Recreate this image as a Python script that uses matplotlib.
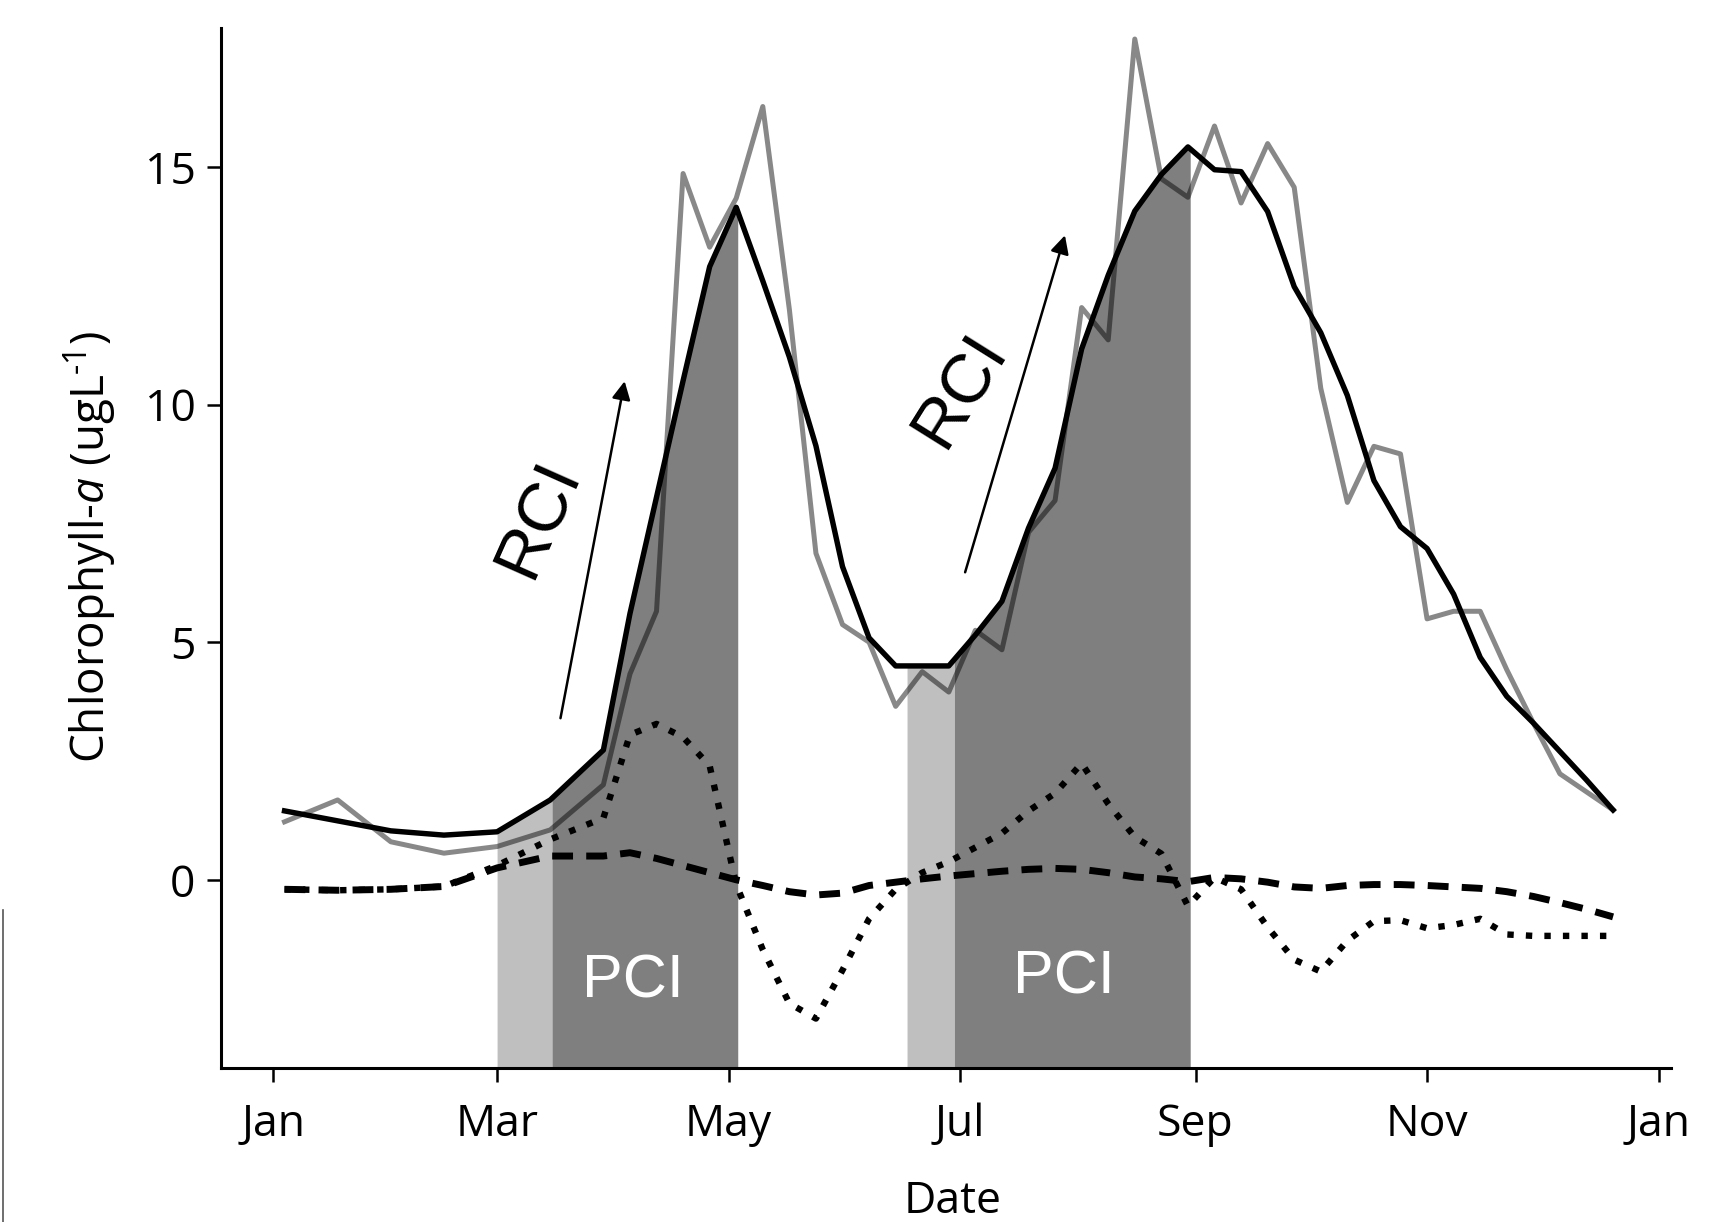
import numpy as np
import matplotlib
matplotlib.use('Agg')
import matplotlib.pyplot as plt
from matplotlib.lines import Line2D

# ---------------- data (day of year, Jan 1 = 0) ----------------
days = [3, 17, 31, 45, 59, 73, 87, 94, 101, 108, 115, 122, 129, 136, 143, 150,
        157, 164, 171, 178, 185, 192, 199, 206, 213, 220, 227, 234, 241, 248,
        255, 262, 269, 276, 283, 290, 297, 304, 311, 318, 325, 332, 339, 346, 353]

chl_raw = [1.22, 1.68, 0.80, 0.56, 0.70, 1.05, 2.00, 4.33, 5.65, 14.86, 13.31,
           14.34, 16.27, 12.0, 6.87, 5.37, 5.00, 3.65, 4.38, 3.95, 5.25, 4.84,
           7.31, 7.98, 12.04, 11.36, 17.69, 14.75, 14.36, 15.86, 14.24, 15.49,
           14.57, 10.34, 7.94, 9.12, 8.96, 5.49, 5.65, 5.65, 4.42, 3.30, 2.23,
           1.85, 1.47]

chl_smooth = [1.45, 1.24, 1.03, 0.94, 1.01, 1.68, 2.73, 5.60, 8.05, 10.50, 12.90,
              14.15, 12.60, 11.00, 9.13, 6.59, 5.09, 4.50, 4.50, 4.50, 5.15, 5.86,
              7.40, 8.66, 11.17, 12.72, 14.07, 14.84, 15.42, 14.94, 14.90, 14.06,
              12.48, 11.51, 10.19, 8.40, 7.43, 6.97, 6.01, 4.68, 3.86, 3.30, 2.70,
              2.10, 1.47]

trend_dashed = [-0.20, -0.22, -0.20, -0.14, 0.25, 0.50, 0.50, 0.57, 0.45, 0.30,
                0.15, 0.00, -0.12, -0.25, -0.32, -0.28, -0.12, -0.05, 0.02, 0.08,
                0.13, 0.18, 0.22, 0.24, 0.22, 0.15, 0.06, 0.02, -0.04, 0.05, 0.02,
                -0.05, -0.15, -0.18, -0.12, -0.10, -0.10, -0.12, -0.15, -0.18,
                -0.25, -0.35, -0.48, -0.62, -0.78]

rate_dotted = [-0.20, -0.22, -0.20, -0.14, 0.30, 0.85, 1.30, 3.05, 3.28, 3.00,
               2.40, -0.10, -1.47, -2.60, -2.92, -1.90, -0.82, -0.20, 0.15, 0.38,
               0.68, 0.98, 1.45, 1.82, 2.45, 1.60, 0.90, 0.55, -0.55, 0.05, -0.20,
               -1.00, -1.68, -1.93, -1.28, -0.87, -0.85, -1.02, -0.95, -0.82,
               -1.15, -1.18, -1.18, -1.18, -1.18]

# shaded periods (start day, end day)
light_bands = [(59.0, 73.5), (167.0, 179.5)]
dark_bands = [(73.5, 122.4), (179.5, 241.6)]

# arrows (tail day, tail value, head day, head value)
rci_arrows = [(75.7, 3.40, 92.6, 10.49), (182.3, 6.47, 208.6, 13.56)]
rci_labels = [(70.0, 7.6, 66), (181.1, 10.3, 58)]
pci_labels = [(94.7, -2.14), (208.3, -2.07)]

month_ticks = [0, 59, 120, 181, 243, 304, 365]
month_labels = ['Jan', 'Mar', 'May', 'Jul', 'Sep', 'Nov', 'Jan']
y_ticks = [0, 5, 10, 15]

XLIM = (-13.7, 368.3)
YLIM = (-3.95, 17.93)

# ---------------- figure ----------------
plt.rcParams['font.family'] = ['Open Sans', 'DejaVu Sans']
plt.rcParams['mathtext.fontset'] = 'custom'
plt.rcParams['mathtext.rm'] = 'Open Sans'
plt.rcParams['mathtext.it'] = 'Open Sans:italic'

fig = plt.figure(figsize=(17.33, 12.22), dpi=100)
ax = fig.add_axes([0.1276, 0.1264, 0.8367, 0.8510])

ax.plot(days, chl_raw, color='#888888', lw=3.6, zorder=2)
ax.plot(days, chl_smooth, color='black', lw=3.9, zorder=3)
ax.plot(days, trend_dashed, color='black', lw=5.0, linestyle=(0, (3.0, 1.9)), zorder=3)
ax.plot(days, rate_dotted, color='black', lw=4.6, linestyle=(0, (1, 1.9)), zorder=3)

for a, b in light_bands:
    xs = np.linspace(a, b, 200)
    ax.fill_between(xs, YLIM[0], np.interp(xs, days, chl_smooth),
                    color='black', alpha=0.25, lw=0, zorder=5)
for a, b in dark_bands:
    xs = np.linspace(a, b, 400)
    ax.fill_between(xs, YLIM[0], np.interp(xs, days, chl_smooth),
                    color='black', alpha=0.5, lw=0, zorder=5)

for x0, y0, x1, y1 in rci_arrows:
    ax.annotate('', xy=(x1, y1), xytext=(x0, y0),
                arrowprops=dict(arrowstyle='-|>,head_length=0.55,head_width=0.28',
                                lw=1.8, color='black', shrinkA=0, shrinkB=0,
                                mutation_scale=20), zorder=6)
for x, y, rot in rci_labels:
    ax.text(x, y, 'RCI', rotation=rot, rotation_mode='anchor', ha='center',
            va='center', fontsize=50, family='Liberation Sans', color='black', zorder=6)
for x, y in pci_labels:
    ax.text(x, y, 'PCI', ha='center', va='center', fontsize=44,
            family='Liberation Sans', color='white', zorder=6)

ax.set_xlim(*XLIM)
ax.set_ylim(*YLIM)
ax.set_xticks(month_ticks)
ax.set_xticklabels(month_labels)
ax.set_yticks(y_ticks)

for s in ['top', 'right']:
    ax.spines[s].set_visible(False)
for s in ['left', 'bottom']:
    ax.spines[s].set_linewidth(2.2)
ax.tick_params(direction='out', length=10.4, width=1.8, labelsize=32, colors='black')
ax.tick_params(axis='x', pad=15)
ax.tick_params(axis='y', pad=8)

ax.set_xlabel('Date', fontsize=32, va='center')
ax.xaxis.set_label_coords(0.5046, -0.129)
ax.set_ylabel(r'Chlorophyll-$\mathit{a}$ (ugL$^{\text{-}1}$)', fontsize=33, va='center')
ax.yaxis.set_label_coords(-0.0899, 0.5006)

# thin crop line at the far left edge of the original image
fig.add_artist(Line2D([0.0017, 0.0017], [0.0, 0.255], transform=fig.transFigure,
                      color='#555555', lw=1.2))

fig.savefig('out.png', dpi=100)
